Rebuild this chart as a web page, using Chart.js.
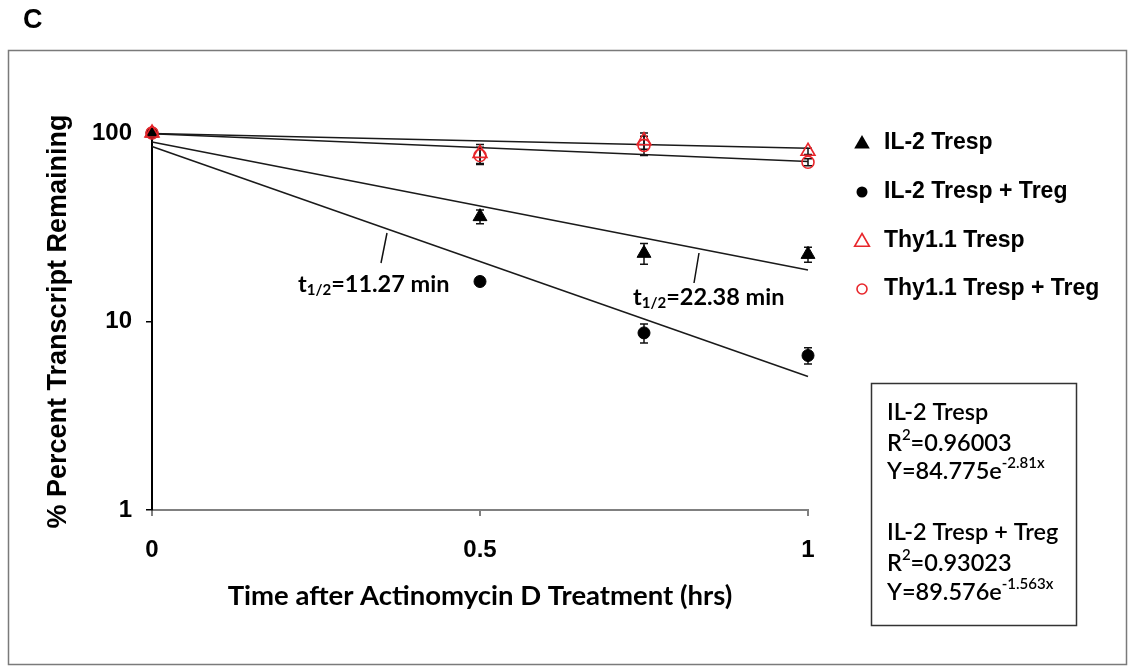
<!DOCTYPE html>
<html>
<head>
<meta charset="utf-8">
<title>IL-2 transcript decay</title>
<script src="https://cdn.jsdelivr.net/npm/chart.js@4.4.1/dist/chart.umd.min.js"></script>
<style>
  body { margin: 0; background: #fff; }
  #wrap { position: relative; width: 1131px; height: 666px; }
</style>
</head>
<body>
<div id="wrap"><canvas id="decay-chart" width="1131" height="666"></canvas></div>
<script>
// Sampling times (hrs)
const times = [0, 0.5, 0.75, 1];

// % transcript remaining (mean) and error bar half-widths per group
const il2Tresp = [100, 36, 23, 22.7];
const il2TrespErr = [0, 3, 2.9, 2.1];
const il2TrespTreg = [100, 16.3, 8.7, 6.6];
const il2TrespTregErr = [0, 0.8, 1, 0.65];
const thyTresp = [100, 78, 91, 80];
const thyTrespErr = [0, 9, 9, 3];
const thyTrespTreg = [100, 76, 86, 70];
const thyTrespTregErr = [0, 8, 10, 3];

// Exponential fits, Y = a * e^(-k x)
const fitNames = ['IL-2 Tresp', 'IL-2 Tresp + Treg'];
const fitA = [84.775, 89.576];
const fitK = [2.81, 1.563];
const fitR2 = ['0.96003', '0.93023'];
const halfLives = ['11.27', '22.38'];

// Thy1.1 trend lines, value at 0 hr and at 1 hr
const thyTrespFit = [99.5, 83];
const thyTrespTregFit = [99, 70.5];

const xTicks = [0, 0.5, 1];
const yTicks = [1, 10, 100];
const legendNames = ['IL-2 Tresp', 'IL-2 Tresp + Treg', 'Thy1.1 Tresp', 'Thy1.1 Tresp + Treg'];

const RED = '#e8262b';
const ARIAL = '"Liberation Sans", Arial, sans-serif';
const CALIBRI = 'Lato, "Open Sans", sans-serif';

function points(ys) {
    return times.map((t, i) => ({ x: t, y: ys[i] }));
}

function fitLine(i) {
    return [0, 1].map(x => ({ x: x, y: fitA[i] * Math.exp(-fitK[i] * x) }));
}

function trendDataset(data) {
    return {
        type: 'line',
        data: data,
        borderColor: '#1a1a1a',
        borderWidth: 1.5,
        pointRadius: 0,
        fill: false,
        clip: false,
        order: 10
    };
}

// Vertical error bars with caps, drawn under the markers
const errorBars = {
    id: 'errorBars',
    beforeDatasetsDraw(chart) {
        const ctx = chart.ctx;
        const xs = chart.scales.x, ys = chart.scales.y;
        const sets = [
            [il2Tresp, il2TrespErr],
            [il2TrespTreg, il2TrespTregErr],
            [thyTresp, thyTrespErr],
            [thyTrespTreg, thyTrespTregErr]
        ];
        ctx.save();
        ctx.strokeStyle = '#111';
        ctx.lineWidth = 1.5;
        sets.forEach(([vals, errs]) => {
            vals.forEach((v, i) => {
                if (!errs[i]) return;
                const px = xs.getPixelForValue(times[i]);
                const top = ys.getPixelForValue(v + errs[i]);
                const bot = ys.getPixelForValue(v - errs[i]);
                ctx.beginPath();
                ctx.moveTo(px, top); ctx.lineTo(px, bot);
                ctx.moveTo(px - 4, top); ctx.lineTo(px + 4, top);
                ctx.moveTo(px - 4, bot); ctx.lineTo(px + 4, bot);
                ctx.stroke();
            });
        });
        ctx.restore();
    }
};

function triangle(ctx, x, y, r) {
    ctx.beginPath();
    for (let k = 0; k < 3; k++) {
        const a = k * 2 * Math.PI / 3;
        ctx.lineTo(x + Math.sin(a) * r, y - Math.cos(a) * r);
    }
    ctx.closePath();
}

// Draws text pieces in a row; pieces may be raised (sup) or lowered (sub)
function richText(ctx, parts, x, y, size, weight) {
    parts.forEach(p => {
        const s = p.sup || p.sub ? Math.round(size * 0.64) : size;
        ctx.font = weight + ' ' + s + 'px ' + CALIBRI;
        const dy = p.sup ? -size * 0.32 : p.sub ? size * 0.28 : 0;
        ctx.fillText(p.t, x, y + dy);
        x += ctx.measureText(p.t).width;
    });
}

const overlay = {
    id: 'overlay',
    afterDraw(chart) {
        const ctx = chart.ctx;
        ctx.save();

        // outer frame and panel letter
        ctx.strokeStyle = '#7a7a7a';
        ctx.lineWidth = 1.5;
        ctx.strokeRect(8.5, 50.5, 1118, 614);
        ctx.fillStyle = '#000';
        ctx.textBaseline = 'middle';
        ctx.font = 'bold 27px ' + ARIAL;
        ctx.fillText('C', 23, 21);

        // legend
        const rowY = [143, 192, 241, 289];
        ctx.font = 'bold 23px ' + ARIAL;
        legendNames.forEach((name, i) => {
            const mx = 862, my = rowY[i];
            ctx.lineWidth = 1.6;
            if (i === 0) { triangle(ctx, mx, my + 1, 9); ctx.fillStyle = '#000'; ctx.fill(); }
            if (i === 1) { ctx.beginPath(); ctx.arc(mx, my, 5.5, 0, 2 * Math.PI); ctx.fillStyle = '#000'; ctx.fill(); }
            if (i === 2) { triangle(ctx, mx, my + 1, 8.5); ctx.strokeStyle = RED; ctx.stroke(); }
            if (i === 3) { ctx.beginPath(); ctx.arc(mx, my, 5, 0, 2 * Math.PI); ctx.strokeStyle = RED; ctx.stroke(); }
            ctx.fillStyle = '#000';
            ctx.fillText(name, 884, my);
        });

        // half-life call-outs
        ctx.strokeStyle = '#111';
        ctx.lineWidth = 1.5;
        ctx.beginPath();
        ctx.moveTo(387, 233); ctx.lineTo(381, 263);
        ctx.moveTo(699, 253); ctx.lineTo(694, 283);
        ctx.stroke();
        ctx.fillStyle = '#000';
        richText(ctx, [{ t: 't' }, { t: '1/2', sub: true }, { t: '=' + halfLives[0] + ' min' }], 298, 284, 23.5, 'bold');
        richText(ctx, [{ t: 't' }, { t: '1/2', sub: true }, { t: '=' + halfLives[1] + ' min' }], 633, 297, 23.5, 'bold');

        // fit summary box
        ctx.strokeStyle = '#333';
        ctx.lineWidth = 1.5;
        ctx.strokeRect(871.5, 383.5, 205, 242);
        const lineY = [[412, 443, 471], [532, 563, 592]];
        fitNames.forEach((name, i) => {
            const [y1, y2, y3] = lineY[i];
            richText(ctx, [{ t: name }], 887, y1, 23.5, '600');
            richText(ctx, [{ t: 'R' }, { t: '2', sup: true }, { t: '=' + fitR2[i] }], 887, y2, 23.5, '600');
            richText(ctx, [{ t: 'Y=' + fitA[i] + 'e' }, { t: '-' + fitK[i] + 'x', sup: true }], 887, y3, 23.5, '600');
        });
        ctx.restore();
    }
};

const tickFont = { family: ARIAL, size: 24, weight: 'bold' };

new Chart(document.getElementById('decay-chart'), {
    type: 'scatter',
    data: {
        datasets: [
            {
                label: legendNames[0], data: points(il2Tresp),
                pointStyle: 'triangle', pointRadius: 8, backgroundColor: '#000', borderColor: '#000',
                borderWidth: 1, clip: false, order: 4
            },
            {
                label: legendNames[1], data: points(il2TrespTreg),
                pointStyle: 'circle', pointRadius: 6, backgroundColor: '#000', borderColor: '#000',
                borderWidth: 1, clip: false, order: 3
            },
            {
                label: legendNames[2], data: points(thyTresp),
                pointStyle: 'triangle', pointRadius: 8, backgroundColor: 'rgba(0,0,0,0)', borderColor: RED,
                borderWidth: 1.6, clip: false, order: 2
            },
            {
                label: legendNames[3], data: points(thyTrespTreg),
                pointStyle: 'circle', pointRadius: 6, backgroundColor: 'rgba(0,0,0,0)', borderColor: RED,
                borderWidth: 1.6, clip: false, order: 1
            },
            trendDataset(fitLine(0)),
            trendDataset(fitLine(1)),
            trendDataset([{ x: 0, y: thyTrespFit[0] }, { x: 1, y: thyTrespFit[1] }]),
            trendDataset([{ x: 0, y: thyTrespTregFit[0] }, { x: 1, y: thyTrespTregFit[1] }])
        ]
    },
    options: {
        responsive: false,
        animation: false,
        layout: { padding: { left: 36, right: 323, top: 133, bottom: 53 } },
        plugins: {
            legend: { display: false },
            tooltip: { enabled: false }
        },
        scales: {
            x: {
                type: 'linear',
                min: 0,
                max: 1,
                afterBuildTicks: s => { s.ticks = xTicks.map(v => ({ value: v })); },
                afterFit: s => { s.height = 103; },
                ticks: { color: '#000', font: tickFont, padding: 20, callback: v => String(v) },
                grid: { drawOnChartArea: false, drawTicks: true, tickLength: 6, color: '#808080', lineWidth: 2 },
                border: { color: '#808080', width: 2 },
                title: {
                    display: true,
                    text: 'Time after Actinomycin D Treatment (hrs)',
                    color: '#000',
                    font: { family: CALIBRI, size: 27.5, weight: 'bold' },
                    padding: { top: 0, bottom: 0 }
                }
            },
            y: {
                type: 'logarithmic',
                min: 1,
                max: 100,
                afterBuildTicks: s => { s.ticks = yTicks.map(v => ({ value: v })); },
                afterFit: s => { s.width = 116; },
                ticks: { color: '#000', font: tickFont, padding: 14, callback: v => String(v) },
                grid: { drawOnChartArea: false, drawTicks: true, tickLength: 6, color: '#000', lineWidth: 1.5 },
                border: { color: '#000', width: 2 },
                title: {
                    display: true,
                    text: '% Percent Transcript Remaining',
                    color: '#000',
                    font: { family: ARIAL, size: 27, weight: 'bold' },
                    padding: { top: 6, bottom: 0 }
                }
            }
        }
    },
    plugins: [errorBars, overlay]
});
</script>
</body>
</html>
